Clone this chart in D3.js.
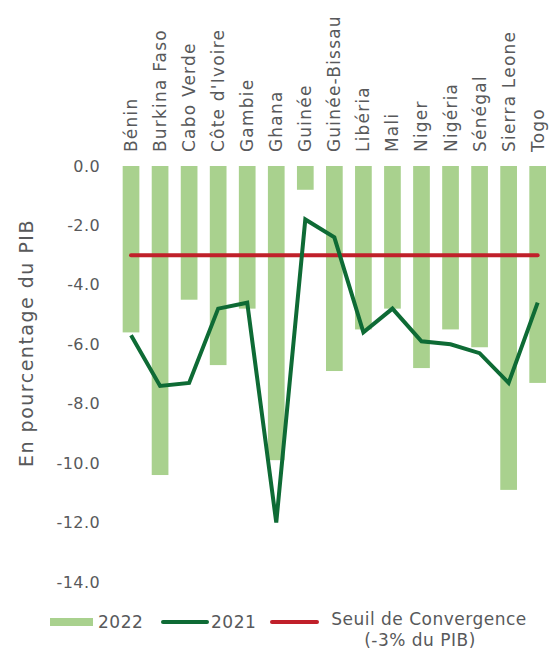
<!DOCTYPE html>
<html>
<head>
<meta charset="utf-8">
<script src="https://cdn.jsdelivr.net/npm/d3@7"></script>
<style>
  html, body { margin: 0; padding: 0; background: #fff; }
  svg text { font-family: "DejaVu Sans", "Open Sans", sans-serif; fill: #58595b; }
</style>
</head>
<body>
<svg id="chart" width="549" height="650"></svg>
<script>
// Solde budgétaire (en % du PIB) par pays
const countries = ["Bénin", "Burkina Faso", "Cabo Verde", "Côte d'Ivoire", "Gambie", "Ghana", "Guinée",
  "Guinée-Bissau", "Libéria", "Mali", "Niger", "Nigéria", "Sénégal", "Sierra Leone", "Togo"];
const values2022 = [-5.6, -10.4, -4.5, -6.7, -4.8, -9.9, -0.8, -6.9, -5.5, -4.8, -6.8, -5.5, -6.1, -10.9, -7.3];
const values2021 = [-5.7, -7.4, -7.3, -4.8, -4.6, -12.0, -1.8, -2.4, -5.6, -4.8, -5.9, -6.0, -6.3, -7.3, -4.6];
const threshold = -3;
const yTicks = [0, -2, -4, -6, -8, -10, -12, -14];
const legendLabels = ["2022", "2021", "Seuil de Convergence", "(-3% du PIB)"];

const colors = { bar: "#a9d18e", line: "#0e6b35", threshold: "#c0202a" };

const svg = d3.select("#chart");

const x = d3.scaleBand().domain(countries).range([116.5, 552.2]).paddingInner(0.425).paddingOuter(0.2125);
const y = d3.scaleLinear().domain([0, -14]).range([166, 582]);

// French-style tick labels with a plain hyphen for negatives
const fmt = d3.formatLocale({ decimal: ".", thousands: " ", grouping: [3], currency: ["", ""], minus: "-" }).format(".1f");

// y axis labels (no axis line)
const yAxis = svg.append("g").attr("transform", "translate(100,0)")
  .call(d3.axisLeft(y).tickValues(yTicks).tickSize(0).tickPadding(0).tickFormat(fmt));
yAxis.select(".domain").remove();
yAxis.selectAll("text")
  .attr("font-family", null).attr("fill", null)
  .style("font-size", "16px").style("letter-spacing", "0.4px");

svg.append("text")
  .attr("transform", "translate(26,343) rotate(-90)")
  .attr("text-anchor", "middle").attr("dominant-baseline", "central")
  .style("font-size", "19px").style("letter-spacing", "1.5px")
  .text("En pourcentage du PIB");

// category labels, rotated above the bars
const xAxis = svg.append("g").attr("transform", "translate(0,152)")
  .call(d3.axisTop(x).tickSize(0).tickPadding(0));
xAxis.select(".domain").remove();
xAxis.selectAll("text")
  .attr("font-family", null).attr("fill", null)
  .style("font-size", "17px").style("letter-spacing", "1.2px")
  .attr("text-anchor", "start")
  .attr("dy", null).attr("y", 0).attr("x", 0)
  .attr("dominant-baseline", "central")
  .attr("transform", "rotate(-90)");

// 2022 bars
svg.append("g").selectAll("rect").data(countries).join("rect")
  .attr("x", d => x(d))
  .attr("width", x.bandwidth())
  .attr("y", y(0))
  .attr("height", (d, i) => y(values2022[i]) - y(0))
  .attr("fill", colors.bar);

// convergence threshold
svg.append("line")
  .attr("x1", x(countries[0]) + x.bandwidth() / 2)
  .attr("x2", x(countries[countries.length - 1]) + x.bandwidth() / 2)
  .attr("y1", y(threshold)).attr("y2", y(threshold))
  .attr("stroke", colors.threshold).attr("stroke-width", 4).attr("stroke-linecap", "round");

// 2021 line
const line = d3.line()
  .x((d, i) => x(countries[i]) + x.bandwidth() / 2)
  .y(d => y(d));
svg.append("path").datum(values2021)
  .attr("d", line)
  .attr("fill", "none")
  .attr("stroke", colors.line)
  .attr("stroke-width", 4)
  .attr("stroke-linejoin", "miter");

// legend
const lg = svg.append("g").style("font-size", "17px").style("letter-spacing", "0.5px");
lg.append("rect").attr("x", 50).attr("y", 618).attr("width", 43).attr("height", 8).attr("fill", colors.bar);
lg.append("text").attr("x", 98).attr("y", 622).attr("dominant-baseline", "central").text(legendLabels[0]);
lg.append("line").attr("x1", 163).attr("x2", 207).attr("y1", 622).attr("y2", 622)
  .attr("stroke", colors.line).attr("stroke-width", 4).attr("stroke-linecap", "round");
lg.append("text").attr("x", 211).attr("y", 622).attr("dominant-baseline", "central").text(legendLabels[1]);
lg.append("line").attr("x1", 272).attr("x2", 317).attr("y1", 622).attr("y2", 622)
  .attr("stroke", colors.threshold).attr("stroke-width", 4).attr("stroke-linecap", "round");
lg.append("text").attr("x", 429).attr("y", 619).attr("text-anchor", "middle").attr("dominant-baseline", "central").text(legendLabels[2]);
lg.append("text").attr("x", 420).attr("y", 640).attr("text-anchor", "middle").attr("dominant-baseline", "central").text(legendLabels[3]);
</script>
</body>
</html>
